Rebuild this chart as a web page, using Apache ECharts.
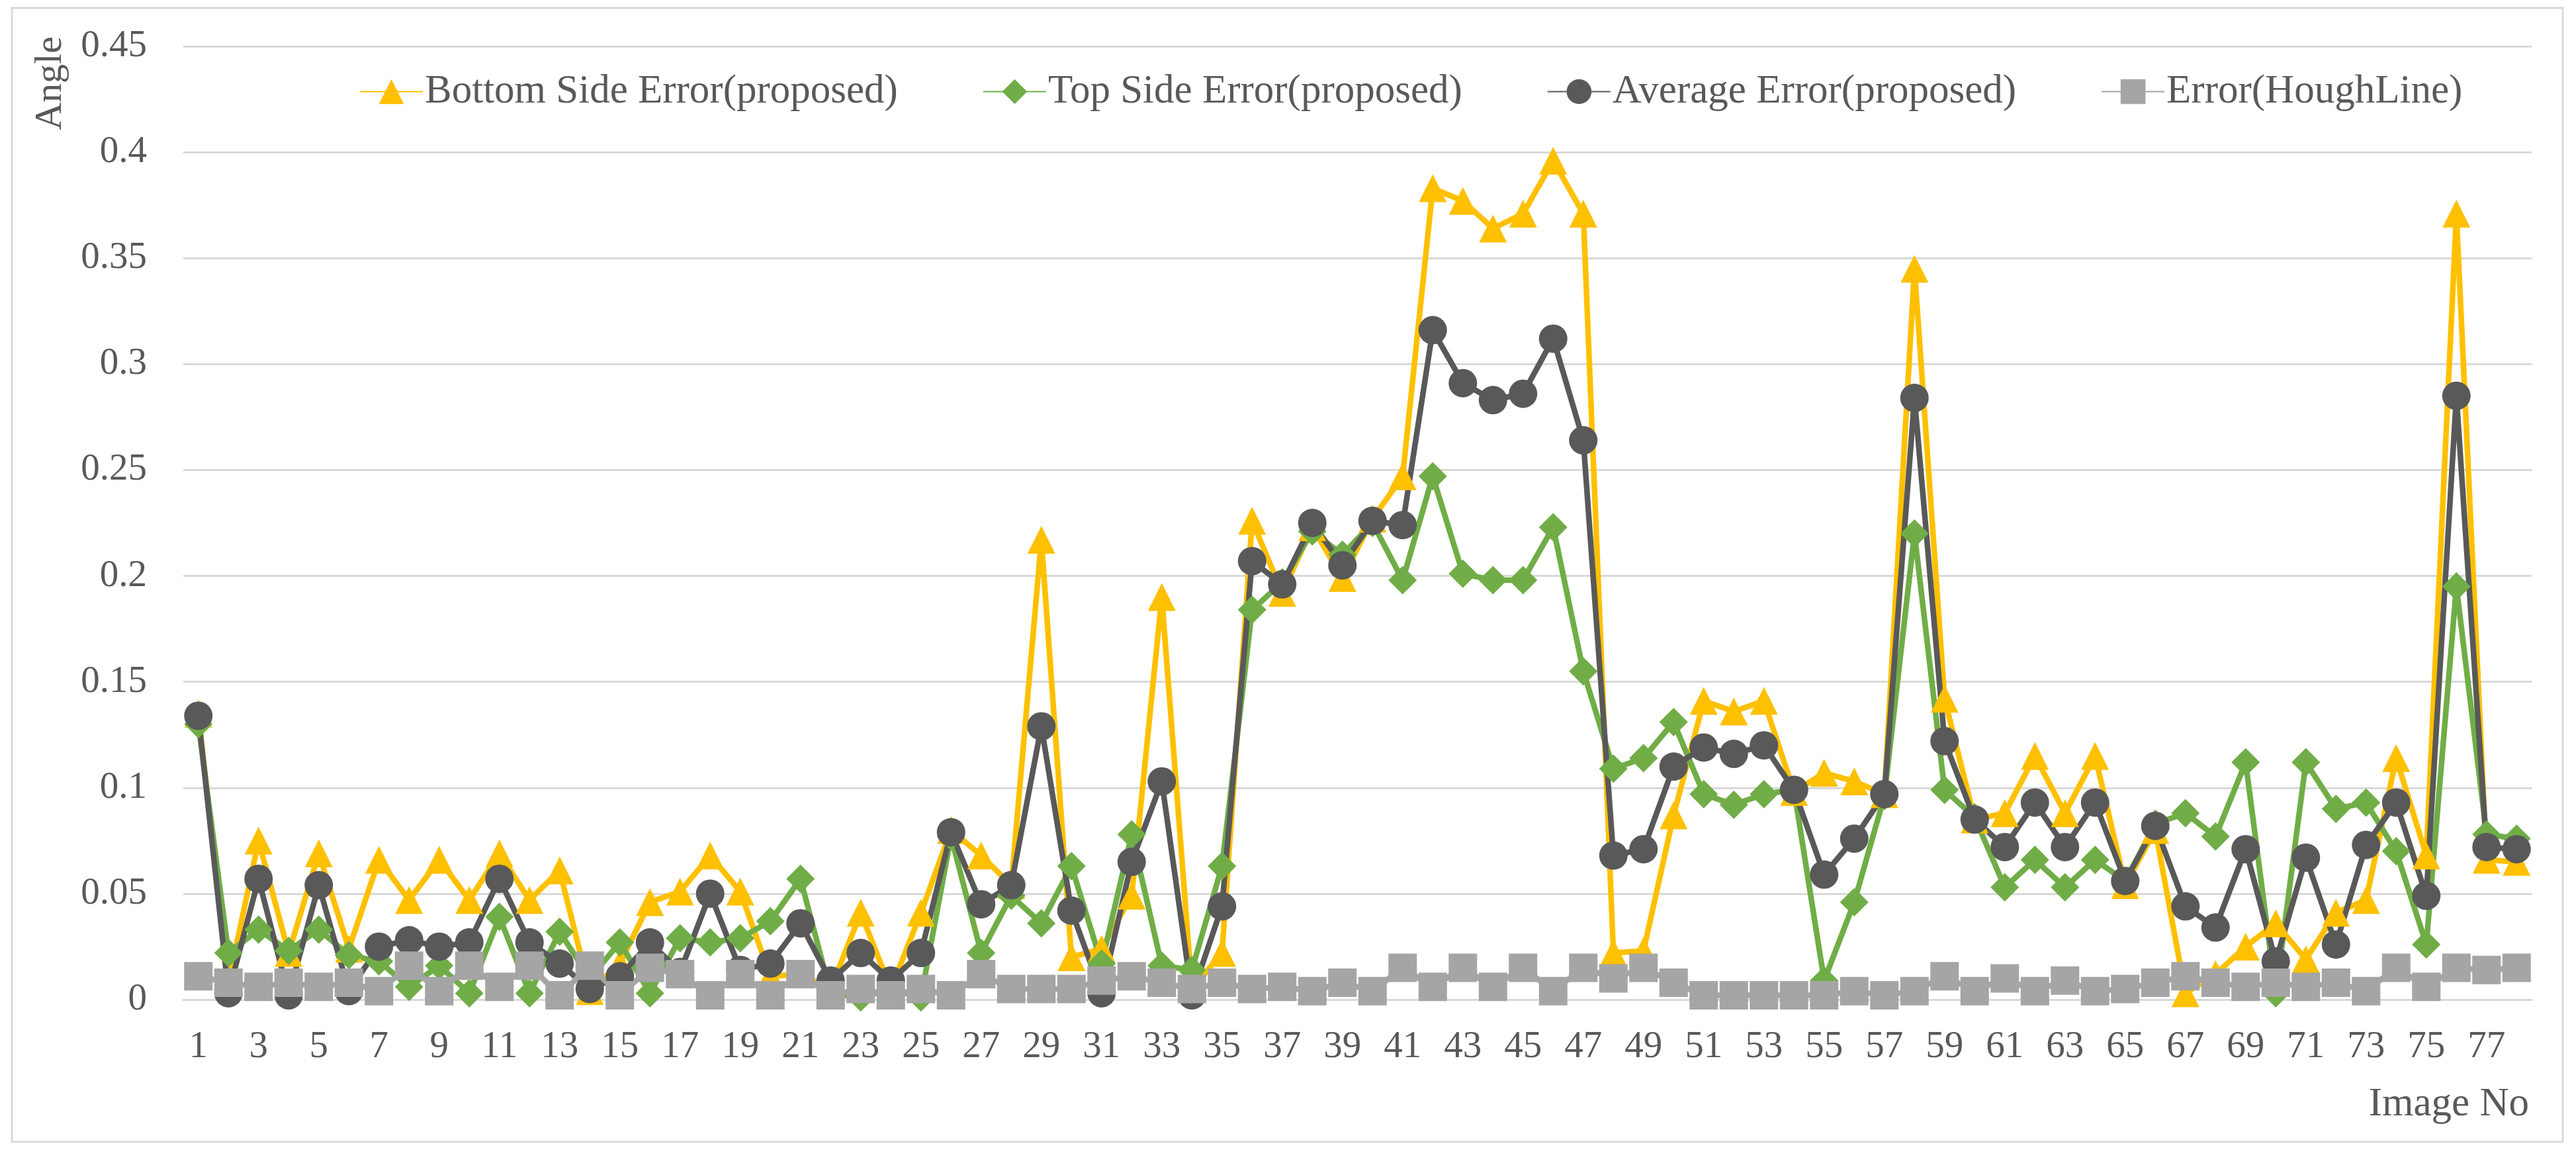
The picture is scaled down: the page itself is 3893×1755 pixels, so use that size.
<!DOCTYPE html>
<html>
<head>
<meta charset="utf-8">
<script src="https://cdn.jsdelivr.net/npm/echarts@6/dist/echarts.min.js"></script>
<style>
html,body{margin:0;padding:0;background:#fff;}
#chart{width:3893px;height:1755px;}
</style>
</head>
<body>
<div id="chart"></div>
<script>
const categories = [];
for (let i = 1; i <= 78; i++) categories.push(String(i));

const seriesNames = ['Bottom Side Error(proposed)', 'Top Side Error(proposed)', 'Average Error(proposed)', 'Error(HoughLine)'];

const bottomSide = [
  0.135, 0.008, 0.075, 0.022, 0.069, 0.024, 0.066, 0.047, 0.066, 0.047,
  0.069, 0.047, 0.061, 0.004, 0.017, 0.046, 0.051, 0.068, 0.051, 0.011,
  0.012, 0.005, 0.041, 0.005, 0.041, 0.080, 0.068, 0.054, 0.217, 0.020,
  0.024, 0.049, 0.190, 0.005, 0.022, 0.226, 0.192, 0.223, 0.199, 0.227,
  0.247, 0.383, 0.377, 0.364, 0.371, 0.396, 0.371, 0.022, 0.023, 0.087,
  0.141, 0.136, 0.141, 0.098, 0.107, 0.103, 0.097, 0.345, 0.142, 0.085,
  0.088, 0.115, 0.088, 0.115, 0.054, 0.080, 0.003, 0.012, 0.025, 0.036,
  0.019, 0.041, 0.047, 0.114, 0.068, 0.371, 0.066, 0.065
];
const topSide = [
  0.130, 0.022, 0.033, 0.023, 0.033, 0.021, 0.018, 0.006, 0.016, 0.003,
  0.039, 0.003, 0.032, 0.010, 0.027, 0.003, 0.029, 0.027, 0.029, 0.037,
  0.057, 0.003, 0.001, 0.005, 0.001, 0.077, 0.022, 0.049, 0.036, 0.063,
  0.017, 0.078, 0.016, 0.014, 0.063, 0.184, 0.197, 0.221, 0.210, 0.225,
  0.198, 0.247, 0.201, 0.198, 0.198, 0.223, 0.155, 0.109, 0.114, 0.131,
  0.097, 0.092, 0.097, 0.099, 0.009, 0.046, 0.096, 0.220, 0.099, 0.086,
  0.053, 0.066, 0.053, 0.066, 0.056, 0.083, 0.088, 0.077, 0.112, 0.003,
  0.112, 0.090, 0.093, 0.070, 0.026, 0.195, 0.078, 0.076
];
const averageErr = [
  0.134, 0.003, 0.057, 0.002, 0.054, 0.004, 0.025, 0.028, 0.025, 0.027,
  0.057, 0.027, 0.017, 0.005, 0.011, 0.027, 0.013, 0.050, 0.014, 0.017,
  0.036, 0.009, 0.022, 0.009, 0.022, 0.079, 0.045, 0.054, 0.129, 0.042,
  0.003, 0.065, 0.103, 0.002, 0.044, 0.207, 0.196, 0.225, 0.205, 0.226,
  0.224, 0.316, 0.291, 0.283, 0.286, 0.312, 0.264, 0.068, 0.071, 0.110,
  0.119, 0.116, 0.120, 0.099, 0.059, 0.076, 0.097, 0.284, 0.122, 0.085,
  0.072, 0.093, 0.072, 0.093, 0.056, 0.082, 0.044, 0.034, 0.071, 0.018,
  0.067, 0.026, 0.073, 0.093, 0.049, 0.285, 0.072, 0.071
];
const houghLine = [
  0.011, 0.008, 0.006, 0.008, 0.006, 0.008, 0.004, 0.016, 0.004, 0.016,
  0.006, 0.016, 0.002, 0.016, 0.002, 0.015, 0.012, 0.002, 0.012, 0.002,
  0.012, 0.002, 0.005, 0.002, 0.005, 0.002, 0.012, 0.005, 0.005, 0.005,
  0.009, 0.011, 0.008, 0.005, 0.008, 0.005, 0.006, 0.004, 0.008, 0.004,
  0.015, 0.006, 0.015, 0.006, 0.015, 0.004, 0.015, 0.010, 0.015, 0.008,
  0.002, 0.002, 0.002, 0.002, 0.002, 0.004, 0.002, 0.004, 0.011, 0.004,
  0.010, 0.004, 0.009, 0.004, 0.005, 0.008, 0.011, 0.008, 0.006, 0.008,
  0.006, 0.008, 0.004, 0.015, 0.006, 0.015, 0.014, 0.015
];

const FONT = 'Liberation Serif';
const TXT = '#595959';

const chart = echarts.init(document.getElementById('chart'), null, {renderer: 'canvas'});

function lineSeries(name, data, color, symbol, size) {
  return {
    name: name,
    type: 'line',
    data: data,
    symbol: symbol,
    symbolSize: size,
    showAllSymbol: true,
    lineStyle: {color: color, width: 8.5},
    itemStyle: {color: color},
    emphasis: {disabled: true},
    animation: false
  };
}

chart.setOption({
  backgroundColor: '#ffffff',
  animation: false,
  grid: {left: 277, right: 67, top: 70, bottom: 244, containLabel: false},
  legend: {
    left: 538,
    top: 103,
    itemWidth: 95,
    itemHeight: 47,
    itemGap: 128,
    textStyle: {fontFamily: FONT, fontSize: 61, color: TXT, padding: [0, 0, 0, -2]},
    data: seriesNames
  },
  xAxis: {
    type: 'category',
    data: categories,
    boundaryGap: true,
    axisLine: {show: true, lineStyle: {color: '#d9d9d9', width: 3}},
    axisTick: {show: false},
    axisLabel: {interval: 1, margin: 44, fontFamily: FONT, fontSize: 57, color: TXT}
  },
  yAxis: {
    type: 'value',
    min: 0,
    max: 0.45,
    interval: 0.05,
    axisLine: {show: false},
    axisTick: {show: false},
    splitLine: {lineStyle: {color: '#d9d9d9', width: 3}},
    axisLabel: {
      margin: 55, fontFamily: FONT, fontSize: 57, color: TXT,
      formatter: function (v) { return String(parseFloat(v.toFixed(2))); }
    }
  },
  graphic: [
    {type: 'rect', shape: {x: 18, y: 12, width: 3855, height: 1714}, style: {fill: 'none', stroke: '#d9d9d9', lineWidth: 3}, silent: true, z: -10},
    {type: 'text', x: 77, y: 126, rotation: Math.PI / 2, style: {text: 'Angle', font: '58px "Liberation Serif"', fill: TXT, textAlign: 'center', textVerticalAlign: 'middle'}},
    {type: 'text', x: 3822, y: 1670, style: {text: 'Image No', font: '61px "Liberation Serif"', fill: TXT, textAlign: 'right', textVerticalAlign: 'middle'}}
  ],
  series: [
    lineSeries(seriesNames[0], bottomSide, '#FFC000', 'triangle', 42),
    lineSeries(seriesNames[1], topSide, '#70AD47', 'diamond', 43),
    lineSeries(seriesNames[2], averageErr, '#595959', 'circle', 43),
    lineSeries(seriesNames[3], houghLine, '#A5A5A5', 'rect', 43)
  ]
});
</script>
</body>
</html>
